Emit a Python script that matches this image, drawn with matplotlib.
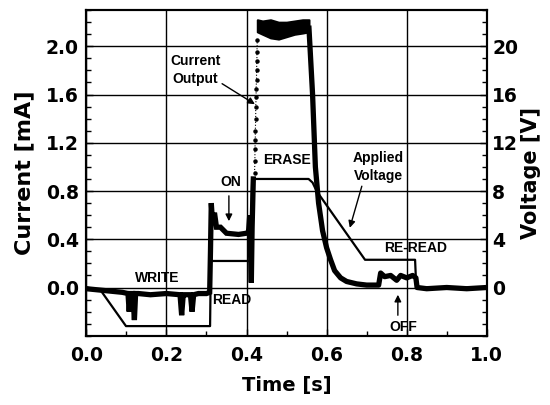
import matplotlib.pyplot as plt
from matplotlib.ticker import MultipleLocator

# ---- data ----
# applied voltage [V] (right axis)
t_volt = [0.0, 0.035, 0.099, 0.309, 0.311, 0.410, 0.414, 0.555, 0.565, 0.575, 0.696, 0.821, 0.824, 1.0]
volt = [0.0, -0.2, -3.2, -3.2, 2.2, 2.2, 9.0, 9.0, 8.7, 8.0, 2.3, 2.3, 0.0, 0.0]

# current output [mA] (left axis), before the fast rise
t_cur1 = [0.0, 0.03, 0.06, 0.09, 0.104, 0.107, 0.110, 0.116, 0.120, 0.123, 0.13, 0.16, 0.20,
          0.234, 0.238, 0.242, 0.25, 0.26, 0.264, 0.268, 0.28, 0.30, 0.308, 0.310, 0.312,
          0.315, 0.32, 0.325, 0.335, 0.35, 0.38, 0.40, 0.405, 0.408, 0.410, 0.412, 0.414, 0.417]
cur1 = [-0.01, -0.02, -0.03, -0.04, -0.05, -0.20, -0.05, -0.05, -0.27, -0.05, -0.05, -0.06, -0.05,
        -0.06, -0.23, -0.06, -0.06, -0.06, -0.20, -0.06, -0.05, -0.05, -0.04, 0.30, 0.70,
        0.55, 0.62, 0.50, 0.50, 0.45, 0.44, 0.45, 0.46, 0.60, 0.30, 0.04, 0.50, 0.90]

# dotted fast rise
t_rise = [0.420, 0.421, 0.421, 0.422, 0.422, 0.423, 0.423, 0.424, 0.424, 0.425, 0.425, 0.426, 0.426, 0.427]
cur_rise = [0.95, 1.05, 1.15, 1.22, 1.30, 1.40, 1.50, 1.58, 1.65, 1.72, 1.80, 1.88, 1.95, 2.05]

# noisy plateau during erase (upper / lower envelope)
t_top = [0.427, 0.44, 0.46, 0.48, 0.50, 0.52, 0.54, 0.556]
top_hi = [2.22, 2.21, 2.22, 2.20, 2.20, 2.21, 2.22, 2.22]
top_lo = [2.12, 2.10, 2.07, 2.06, 2.08, 2.10, 2.11, 2.12]

# decay and re-read
t_cur2 = [0.556, 0.565, 0.572, 0.58, 0.59, 0.60, 0.61, 0.62, 0.635, 0.65, 0.675, 0.70, 0.73,
          0.735, 0.745, 0.76, 0.775, 0.785, 0.80, 0.815, 0.823, 0.826, 0.85, 0.90, 0.95, 1.0]
cur2 = [2.15, 1.60, 1.00, 0.70, 0.47, 0.33, 0.23, 0.14, 0.08, 0.05, 0.03, 0.02, 0.02,
        0.12, 0.09, 0.10, 0.06, 0.10, 0.08, 0.10, 0.08, 0.0, -0.01, 0.0, -0.01, 0.0]

cur_ticks = [0.0, 0.4, 0.8, 1.2, 1.6, 2.0]
volt_ticks = [0, 4, 8, 12, 16, 20]
time_ticks = [0.0, 0.2, 0.4, 0.6, 0.8, 1.0]

lab_font = {'family': 'Liberation Sans', 'weight': 'bold', 'size': 10}

fig = plt.figure(figsize=(5.5, 4.05), dpi=100)
ax = fig.add_axes([0.157, 0.171, 0.728, 0.804])
ax2 = ax.twinx()

ax.plot(t_cur1, cur1, color='black', lw=3.8, solid_joinstyle='miter')
ax.plot(t_rise, cur_rise, color='black', lw=0.8, ls=':', marker='o', ms=2.2)
ax.fill_between(t_top, top_lo, top_hi, color='black', lw=1.5, edgecolor='black')
ax.plot(t_cur2, cur2, color='black', lw=3.8)
ax2.plot(t_volt, volt, color='black', lw=1.6)

ax.set_xlim(0, 1.0)
ax.set_ylim(-0.4, 2.3)
ax2.set_ylim(-4, 23)

ax.set_xticks(time_ticks)
ax.set_yticks(cur_ticks)
ax2.set_yticks(volt_ticks)
ax.xaxis.set_minor_locator(MultipleLocator(0.1))
ax.yaxis.set_minor_locator(MultipleLocator(0.1))
ax2.yaxis.set_minor_locator(MultipleLocator(1))
ax.set_xticklabels(['%.1f' % v for v in time_ticks])
ax.set_yticklabels(['%.1f' % v for v in cur_ticks])
ax2.set_yticklabels([str(v) for v in volt_ticks])

ax.grid(True, which='major', color='black', lw=1.0)
ax.set_axisbelow(True)

for a in (ax, ax2):
    a.tick_params(which='both', direction='in', labelsize=13.5)
    a.tick_params(which='major', length=5, width=1)
    a.tick_params(which='minor', length=3.5, width=1)
    for s in a.spines.values():
        s.set_linewidth(1.5)
ax.tick_params(axis='y', pad=5.5)
ax.tick_params(axis='x', pad=7.5)
ax2.tick_params(axis='y', pad=4)
for lbl in ax.get_xticklabels() + ax.get_yticklabels() + ax2.get_yticklabels():
    lbl.set_fontweight('bold')

ax.set_xlabel('Time [s]', fontsize=14, fontweight='bold', labelpad=8)
ax.set_ylabel('Current [mA]', fontsize=16, fontweight='bold', labelpad=8)
ax2.set_ylabel('Voltage [V]', fontsize=15, fontweight='bold', labelpad=2)

arrow = dict(arrowstyle='-|>', color='black', lw=1.0, mutation_scale=10, shrinkA=0, shrinkB=0)

ax.text(0.272, 1.80, 'Current\nOutput', ha='center', va='center', linespacing=1.35, fontdict=lab_font)
ax.annotate('', xy=(0.421, 1.52), xytext=(0.339, 1.69), arrowprops=arrow)
ax.text(0.50, 1.06, 'ERASE', ha='center', va='center', fontdict=lab_font)
ax.text(0.361, 0.873, 'ON', ha='center', va='center', fontdict=lab_font)
ax.annotate('', xy=(0.356, 0.55), xytext=(0.356, 0.76), arrowprops=arrow)
ax.text(0.176, 0.08, 'WRITE', ha='center', va='center', fontdict=lab_font)
ax.text(0.364, -0.10, 'READ', ha='center', va='center', fontdict=lab_font)
ax.text(0.729, 1.00, 'Applied\nVoltage', ha='center', va='center', linespacing=1.35, fontdict=lab_font)
ax.annotate('', xy=(0.658, 0.495), xytext=(0.688, 0.84), arrowprops=arrow)
ax.text(0.823, 0.33, 'RE-READ', ha='center', va='center', fontdict=lab_font)
ax.text(0.791, -0.33, 'OFF', ha='center', va='center', fontdict=lab_font)
ax.annotate('', xy=(0.778, -0.06), xytext=(0.778, -0.23), arrowprops=arrow)

fig.savefig('out.png', dpi=100)
